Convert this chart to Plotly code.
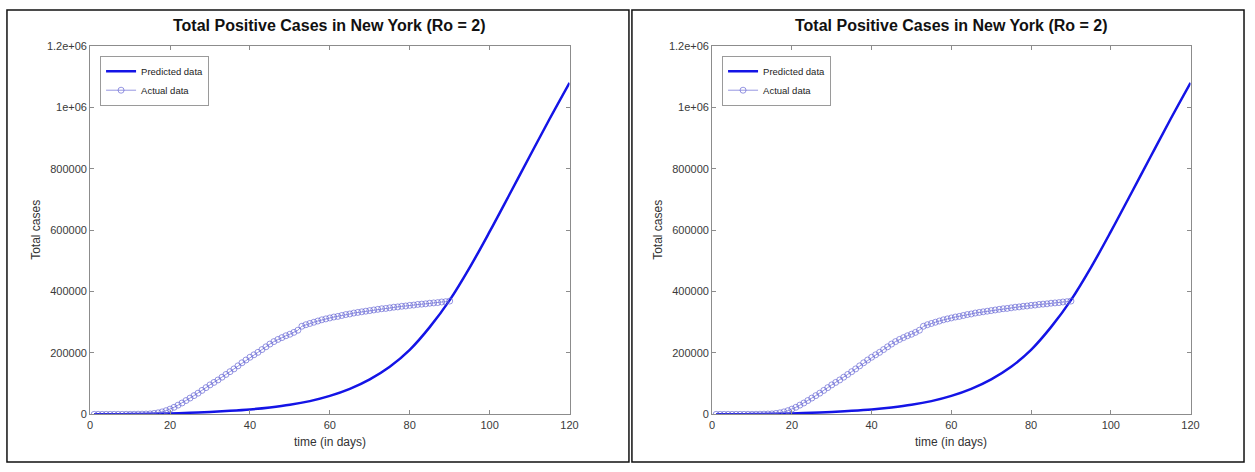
import plotly.graph_objects as go

W, H = 1255, 472

# ---------------- data ----------------
actual_days = list(range(1, 91))
actual_cases = [
    0, 0, 0, 0, 10, 20, 50, 100, 150, 200,
    300, 500, 700, 1000, 1500, 3000, 5000, 8000, 12000, 17000,
    23000, 30000, 37000, 45000, 53000, 61000, 69000, 78000, 87000, 96000,
    104000, 112000, 121000, 130000, 139000, 148000, 158000, 168000, 177000, 186000,
    194000, 202000, 211000, 220000, 229000, 237000, 244000, 250000, 256000, 261000,
    267000, 274000, 287000, 292000, 296000, 300000, 304000, 308000, 311000, 314000,
    317000, 319000, 322000, 325000, 327000, 330000, 332000, 334000, 336000, 338000,
    340000, 342000, 344000, 345000, 347000, 349000, 350000, 352000, 353000, 355000,
    356000, 358000, 359000, 360000, 362000, 363000, 364000, 366000, 367000, 369000,
]

pred_days = [1, 5, 10, 15, 20, 25, 30, 35, 40, 45, 50, 55, 60, 65, 70, 75, 80,
             85, 90, 95, 100, 105, 110, 115, 120]
pred_cases = [200, 400, 800, 1600, 3000, 5000, 8000, 11500, 16000, 22500, 31000,
              43000, 60000, 83000, 114000, 155000, 210000, 284000, 372000, 478000,
              595000, 717000, 840000, 962000, 1080000]

x_ticks = [0, 20, 40, 60, 80, 100, 120]
y_ticks = [0, 200000, 400000, 600000, 800000, 1000000, 1200000]
y_tick_labels = ["0", "200000", "400000", "600000", "800000", "1e+06", "1.2e+06"]

title_text = "Total Positive Cases in New York (Ro = 2)"
x_title = "time (in days)"
y_title = "Total cases"

# ---------------- layout helpers ----------------
def px_x(p):
    return p / W

def px_y(p):
    return 1 - p / H

FONT = "Liberation Sans, Arial, Helvetica, sans-serif"
PRED_COLOR = "#1414e6"
ACT_COLOR = "rgba(95,95,210,0.65)"

panels = [
    dict(xa="x", ya="y", legend="legend", x0=88, x1=572, box=(4, 4, 632, 468)),
    dict(xa="x2", ya="y2", legend="legend2", x0=716, x1=1199, box=(635, 4, 1253, 468)),
]
PLOT_TOP, PLOT_BOTTOM = 41, 419

fig = go.Figure()
shapes = []
annotations = []
layout = {}

for i, p in enumerate(panels):
    fig.add_trace(go.Scatter(
        x=pred_days, y=pred_cases, mode="lines", name="Predicted data",
        line=dict(color=PRED_COLOR, width=2.5, shape="spline", smoothing=1.0),
        xaxis=p["xa"], yaxis=p["ya"], legend=p["legend"],
    ))
    fig.add_trace(go.Scatter(
        x=actual_days, y=actual_cases, mode="lines+markers", name="Actual data",
        line=dict(color=ACT_COLOR, width=1),
        marker=dict(symbol="circle-open", size=6, color=ACT_COLOR,
                    line=dict(width=1, color=ACT_COLOR)),
        xaxis=p["xa"], yaxis=p["ya"], legend=p["legend"],
    ))

    sfx = "" if i == 0 else str(i + 1)
    axis_common = dict(
        showline=True, linecolor="#8c8c8c", linewidth=1, mirror="ticks",
        ticks="inside", ticklen=4, tickcolor="#8c8c8c", tickwidth=1,
        showgrid=False, zeroline=False,
        tickfont=dict(family=FONT, size=11, color="#3a3a3a"),
    )
    layout["xaxis" + sfx] = dict(
        axis_common, domain=[px_x(p["x0"]), px_x(p["x1"])], range=[0, 120],
        tickvals=x_ticks, ticktext=[str(v) for v in x_ticks],
        anchor="y" + sfx,
    )
    layout["yaxis" + sfx] = dict(
        axis_common, domain=[px_y(PLOT_BOTTOM), px_y(PLOT_TOP)], range=[0, 1200000],
        tickvals=y_ticks, ticktext=y_tick_labels, anchor="x" + sfx,
    )
    layout[p["legend"]] = dict(
        x=px_x(p["x0"] + 10), y=px_y(51), xanchor="left", yanchor="top",
        xref="paper", yref="paper",
        bgcolor="white", bordercolor="#9a9a9a", borderwidth=1,
        font=dict(family=FONT, size=9.5, color="#222"),
        itemwidth=30, tracegroupgap=0,
    )
    cx = (p["x0"] + p["x1"]) / 2
    annotations.append(dict(
        text="<b>" + title_text + "</b>", x=px_x(cx), y=px_y(20),
        xref="paper", yref="paper", showarrow=False, xanchor="center", yanchor="middle",
        font=dict(family=FONT, size=16, color="#111"),
    ))
    annotations.append(dict(
        text=x_title, x=px_x(cx), y=px_y(447),
        xref="paper", yref="paper", showarrow=False, xanchor="center", yanchor="middle",
        font=dict(family=FONT, size=12, color="#333"),
    ))
    annotations.append(dict(
        text=y_title, x=px_x(p["x0"] - 55), y=px_y((PLOT_TOP + PLOT_BOTTOM) / 2),
        xref="paper", yref="paper", showarrow=False, textangle=-90,
        xanchor="center", yanchor="middle",
        font=dict(family=FONT, size=12, color="#333"),
    ))
    bx0, by0, bx1, by1 = p["box"]
    shapes.append(dict(
        type="rect", xref="paper", yref="paper",
        x0=px_x(bx0), x1=px_x(bx1), y0=px_y(by1), y1=px_y(by0),
        line=dict(color="#111", width=1.5), fillcolor="rgba(0,0,0,0)", layer="above",
    ))

fig.update_layout(
    width=W, height=H, margin=dict(l=0, r=0, t=0, b=0),
    paper_bgcolor="white", plot_bgcolor="white",
    showlegend=True, shapes=shapes, annotations=annotations,
    hovermode=False,
    **layout,
)

fig.write_html(
    "out.html",
    config={"displayModeBar": False},
    post_script="document.body.style.margin='0';document.body.style.overflow='hidden';",
)
